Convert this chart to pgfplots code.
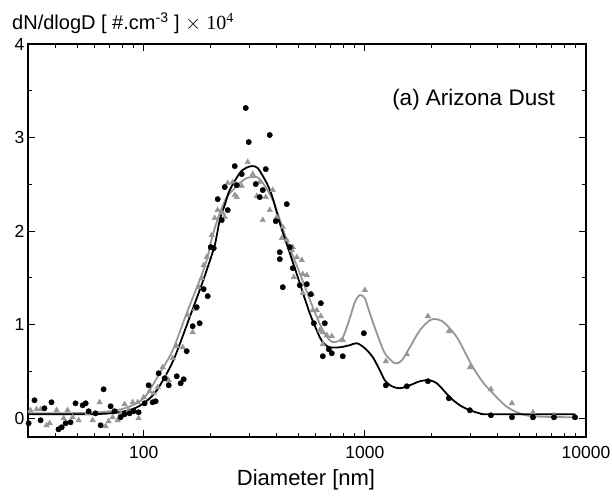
\documentclass[border=0pt]{standalone}
\usepackage{pgfplots}
\pgfplotsset{compat=1.18}
\usepackage{pgfplotstable}
\usepackage{fontspec}
\setmainfont{Liberation Sans}
\newfontfamily\serifff{Liberation Serif}
\definecolor{grayc}{RGB}{150,150,150}

\pgfplotstableread{
x y
30.2 -0.053
32.1 0.193
34.2 -0.021
35.6 0.107
38.3 0.171
41.2 -0.118
42.6 -0.096
44.4 -0.053
46.7 -0.043
49.2 0.160
53.0 0.139
54.7 0.160
56.4 0.075
60.6 0.053
63.9 -0.075
65.9 0.310
70.9 0.128
73.9 0.075
78.7 0.011
82.0 0.043
86.4 0.053
90.1 0.075
94.9 0.064
101 0.160
105.3 0.353
109.8 0.171
113.3 0.182
116.9 0.481
124.5 0.428
129.8 0.353
141.1 0.449
147.0 0.374
151.7 0.417
156.5 0.717
166.6 0.984
179.2 1.016
173.7 1.187
186.8 1.380
194.8 1.305
201.0 1.829
207.4 1.818
225.4 2.118
240.0 2.225
216.2 2.342
232.6 2.471
263.5 2.492
258.1 2.695
277.6 2.610
289.4 3.316
298.6 2.952
371.7 3.027
356.5 2.663
321.3 2.503
345.6 2.439
335.0 2.364
443.7 2.289
395.7 2.107
457.8 1.829
412.6 1.775
412.6 1.701
472.3 1.604
425.6 1.401
508.0 1.422
546.5 1.433
569.8 1.326
632.5 1.230
587.9 1.016
659.2 1.016
645.6 0.663
687.1 0.738
709.0 0.695
795.0 0.663
989.7 0.909
1245 0.353
1549 0.342
1928 0.396
2400 0.214
2986 0.086
3716 0.032
4626 0.011
5757 0.011
7164 0.011
8917 0.011
}\blackpts

\pgfplotstableread{
x y
30.8 0.086
32.8 0.096
34.2 0.096
36.4 -0.075
37.6 -0.053
40.4 0.086
43.5 0.0
45.3 0.086
47.7 0.011
50.8 -0.021
55.8 0.053
58.8 -0.021
63.2 0.171
67.3 -0.086
69.4 -0.032
72.4 0.011
76.3 -0.021
78.7 0.053
82.0 0.150
85.5 0.086
89.2 0.171
94.0 0.171
94.9 0.0
100 0.225
106.4 0.289
111.0 0.267
115.7 0.332
125.8 0.439
129.8 0.406
121.9 0.545
135.3 0.642
141.1 0.770
150.2 0.759
158.2 1.102
166.6 0.920
170.2 1.166
177.4 1.401
183.0 1.497
186.8 1.636
192.8 1.722
203.1 1.957
209.6 2.139
216.2 2.225
227.8 2.193
232.6 2.150
240.0 2.513
252.8 2.524
263.5 2.364
269.1 2.481
277.6 2.481
295.5 2.738
311.4 2.610
324.6 2.374
258.1 2.385
335.0 2.524
383.5 2.439
356.5 2.364
371.7 2.225
345.6 2.118
399.8 2.150
425.6 2.043
421.3 1.925
443.7 1.904
472.3 1.829
492.4 1.722
518.8 1.690
524.2 1.540
546.5 1.529
467.4 1.797
477.3 1.508
524.2 1.337
575.8 1.326
581.8 1.155
606.6 1.155
632.5 1.091
625.9 0.941
645.6 0.920
673.0 0.888
709.0 0.877
645.6 0.791
795.0 0.834
1000 1.369
1245 0.610
1549 0.684
1928 1.091
2400 0.930
2986 0.545
3716 0.310
4626 0.160
5757 0.064
7164 0.032
8917 0.011
}\graypts

\pgfplotstableread{
x y
30 0.043
41.7 0.043
57.0 0.043
70.2 0.053
82.0 0.075
91.0 0.107
100 0.160
112.1 0.267
124.5 0.439
138.1 0.652
161.5 1.080
179.2 1.369
192.8 1.583
209.6 1.850
220.8 2.118
232.6 2.278
245.0 2.439
271.9 2.620
289.4 2.674
308.1 2.695
328.1 2.674
360.2 2.513
383.5 2.353
412.6 2.086
457.8 1.765
508.0 1.444
563.6 1.123
625.9 0.866
659.2 0.791
694.3 0.759
770.5 0.759
855.2 0.781
920.1 0.802
1000 0.749
1087 0.652
1169 0.513
1232 0.406
1325 0.342
1440 0.321
1598 0.353
1774 0.396
1968 0.406
2140 0.364
2424 0.225
2691 0.139
2986 0.086
3314 0.053
3678 0.043
8917 0.043
}\blackfit

\pgfplotstableread{
x y
30 0.053
41.7 0.053
63.2 0.064
82.0 0.107
100 0.214
118.1 0.481
135.3 0.727
156.5 1.123
179.2 1.476
192.8 1.690
205.2 1.957
220.8 2.193
237.5 2.364
252.8 2.439
271.9 2.513
292.5 2.567
311.4 2.578
335.0 2.556
383.5 2.332
443.7 1.904
508.0 1.551
581.8 1.187
645.6 0.941
694.3 0.834
731.6 0.813
795.0 0.866
855.2 1.070
901.1 1.241
949.3 1.316
1000 1.283
1053 1.123
1133 0.909
1232 0.695
1367 0.588
1470 0.620
1598 0.759
1774 0.941
1968 1.048
2118 1.059
2301 1.016
2608 0.866
2835 0.706
3082 0.545
3419 0.385
3795 0.267
4299 0.139
4873 0.064
5757 0.021
8917 0.011
}\grayfit

\begin{document}
\begin{tikzpicture}
\useasboundingbox (-28pt,-62pt) rectangle (584pt,437pt);
\begin{axis}[
  at={(0pt,0pt)}, anchor=south west,
  scale only axis, width=558pt, height=393pt,
  xmode=log, log basis x=10,
  xmin=30, xmax=10000, ymin=-0.2, ymax=4,
  xtick={100,1000,10000}, xticklabels={100,1000,10000},
  minor xtick={40,50,60,70,80,90,200,300,400,500,600,700,800,900,2000,3000,4000,5000,6000,7000,8000,9000},
  ytick={0,1,2,3,4},
  minor ytick={0.5,1.5,2.5,3.5},
  tick align=inside, tick pos=both,
  major tick length=7pt, minor tick length=4pt,
  tick style={black, line width=1pt},
  axis line style={line width=1.2pt},
  ticklabel style={font=\fontsize{17.5}{17.5}\selectfont},
  xticklabel style={anchor=base, yshift=-21pt},
  /pgf/number format/assume math mode=true,
  clip=false,
]
\addplot[grayc, line width=1.8pt, smooth, tension=0.5] table[x=x,y=y] {\grayfit};
\addplot[black, line width=1.8pt, smooth, tension=0.5] table[x=x,y=y] {\blackfit};
\addplot[only marks, mark=triangle*, mark size=3.2pt, draw=grayc, fill=grayc] table[x=x,y=y] {\graypts};
\addplot[only marks, mark=*, mark size=2.7pt, draw=black, fill=black] table[x=x,y=y] {\blackpts};
\end{axis}
\node[anchor=base west, font=\fontsize{20}{20}\selectfont, inner sep=0pt] at (-16pt,407pt)
  {dN/dlogD [ \#.cm\textsuperscript{-3} ] {\serifff $\times$ 10\textsuperscript{4}}};
\node[anchor=base east, font=\fontsize{22.5}{22.5}\selectfont, inner sep=0pt] at (527pt,331pt) {(a) Arizona Dust};
\node[anchor=base, font=\fontsize{22}{22}\selectfont, inner sep=0pt] at (278pt,-48pt) {Diameter [nm]};
\end{tikzpicture}
\end{document}
